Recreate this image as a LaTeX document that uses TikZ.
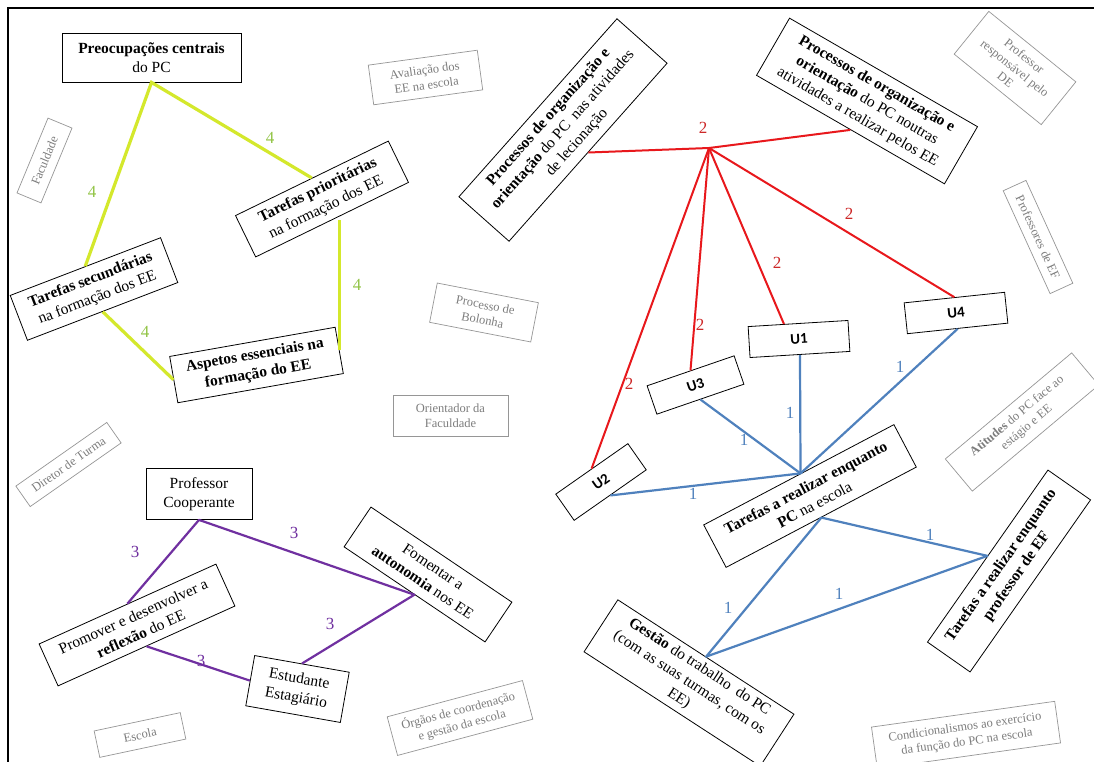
\documentclass[tikz,border=0pt]{standalone}
\usepackage{fontspec}
\setmainfont{Liberation Serif}
\newfontfamily\calibri{Carlito}
\usetikzlibrary{calc}

\definecolor{lineGreen}{RGB}{212,232,44}
\definecolor{numGreen}{RGB}{146,196,70}
\definecolor{lineRed}{RGB}{232,24,28}
\definecolor{numRed}{RGB}{205,40,40}
\definecolor{lineBlue}{RGB}{79,129,189}
\definecolor{linePurple}{RGB}{112,48,160}
\definecolor{boxGray}{RGB}{150,150,150}
\definecolor{txtGray}{RGB}{125,125,125}

\tikzset{
  catbox/.style={draw=black, line width=0.8pt, fill=white, align=center, inner sep=2pt,
    font=\fontsize{15.5}{19}\selectfont},
  grbox/.style={draw=boxGray, line width=0.7pt, fill=white, align=center, inner sep=2pt,
    text=txtGray, font=\fontsize{12.5}{15}\selectfont},
  ubox/.style={draw=black, line width=0.8pt, fill=white, inner sep=2pt,
    font=\calibri\bfseries\fontsize{15}{16}\selectfont},
  numlbl/.style={font=\fontsize{17}{17}\selectfont, inner sep=1pt},
  grline/.style={draw=lineGreen, line width=3.2pt},
  rdline/.style={draw=lineRed, line width=2pt},
  blline/.style={draw=lineBlue, line width=2.2pt, line join=round},
  ppline/.style={draw=linePurple, line width=2.2pt, line join=round}
}

\begin{document}
\begin{tikzpicture}[x=1pt, y=-1pt]
  \useasboundingbox (0,0) rectangle (1094,762);
  \fill[white] (0,0) rectangle (1094,762);
  \draw[line width=2pt] (8,762) -- (8,8) -- (1094,8);

  % Context categories (gray)
  \foreach \nm/\x/\y/\r/\w/\h/\txt in {
      fac/44.5/160.5/67.5/81/26/{Faculdade},
      aval/425.5/77.5/7.8/110/40/{Avaliação dos\\EE na escola},
      prde/1015/68/-39/112/55/{Professor\\responsável pelo\\DE},
      pef/1038/237/-65.5/113/25/{Professores de EF},
      bol/484/312.5/-11/103/40/{Processo de\\Bolonha},
      orf/450.5/415.5/0/115/41/{Orientador da\\Faculdade},
      dir/68.5/464.5/35/111/25/{Diretor de Turma},
      esc/140/735/12/88/27/{Escola},
      org/460/718/15/140/40/{Órgãos de coordenação\\e gestão da escola},
      cond/966/735/8/185/42/{Condicionalismos ao exercício\\da função do PC na escola},
      atit/1022/422/40/165/42/{\textbf{Atitudes} do PC face ao\\estágio e EE}} {
    \node[grbox, rotate=\r, minimum width=\w pt, minimum height=\h pt] (\nm) at (\x,\y) {\txt};
  }

  % Green group
  \node[catbox, minimum width=179pt, minimum height=49pt] (pc) at (151.5,57.5)
    {\textbf{Preocupações centrais}\\do PC};
  \node[catbox, rotate=26, minimum width=170pt, minimum height=46pt] (tpri) at (322,199)
    {\textbf{Tarefas prioritárias}\\na formação dos EE};
  \node[catbox, rotate=21, minimum width=161pt, minimum height=48pt] (tsec) at (94,289)
    {\textbf{Tarefas secundárias}\\na formação dos EE};
  \node[catbox, rotate=10, minimum width=168pt, minimum height=47pt] (asp) at (256.5,365)
    {\textbf{Aspetos essenciais na}\\\textbf{formação do EE}};

  % Red group
  \node[catbox, rotate=48.4, minimum width=238pt, minimum height=67pt] (procL) at (563,130)
    {\textbf{Processos de organização e}\\\textbf{orientação} do PC\ \ nas atividades\\de lecionação};
  \node[catbox, rotate=-30, minimum width=217pt, minimum height=66pt] (procR) at (867,101)
    {\textbf{Processos de organização e}\\\textbf{orientação} do PC noutras\\atividades a realizar pelos EE};
  \node[ubox, rotate=3.5, minimum width=100pt, minimum height=31pt] (u1) at (799,339) {U1};
  \node[ubox, rotate=35, minimum width=88pt, minimum height=32pt] (u2) at (601,482) {U2};
  \node[ubox, rotate=19, minimum width=92pt, minimum height=30pt] (u3) at (695.5,385) {U3};
  \node[ubox, rotate=6, minimum width=101pt, minimum height=31pt] (u4) at (956,313) {U4};

  % Blue group
  \node[catbox, rotate=27.8, minimum width=215pt, minimum height=48pt] (trpc) at (810,496)
    {\textbf{Tarefas a realizar enquanto}\\\textbf{PC} na escola};
  \node[catbox, rotate=55, minimum width=210pt, minimum height=52pt] (tref) at (1009,571)
    {\textbf{Tarefas a realizar enquanto}\\\textbf{professor de EF}};
  \node[catbox, rotate=-33, minimum width=210pt, minimum height=62pt] (gestao) at (689,683)
    {\textbf{Gestão} do trabalho\ \ do PC\\(com as suas turmas, com os\\EE)};

  % Purple group
  \node[catbox, minimum width=106pt, minimum height=51pt] (pcoop) at (199,494)
    {Professor\\Cooperante};
  \node[catbox, rotate=-34, minimum width=170pt, minimum height=48pt] (fom) at (428,574.5)
    {Fomentar a\\\textbf{autonomia} nos EE};
  \node[catbox, rotate=24.3, minimum width=194pt, minimum height=46pt] (prom) at (137,625)
    {Promover e desenvolver a\\\textbf{reflexão} do EE};
  \node[catbox, rotate=-10, minimum width=96pt, minimum height=51pt] (est) at (297.5,689)
    {Estudante\\Estagiário};

  % Connectors
  \draw[grline] (tsec.north) -- (pc.south) -- (tpri.north);
  \draw[grline] (tpri.south -| asp.east) -- (asp.east);
  \draw[grline] (tsec.south) -- (asp.west);

  \coordinate (hubR) at (709,148);
  \draw[rdline] (procL.south) -- (hubR) -- (procR.south);
  \foreach \u in {u2,u3,u4}
    \draw[rdline] (hubR) -- (\u.north);
  \draw[rdline] (hubR) -- ($(u1.north)!0.28!(u1.north west)$);

  \coordinate (hubB) at ($(trpc.north west)!0.51!(trpc.north east)$);
  \draw[blline] (u1.south) -- (hubB);
  \foreach \u in {u2.south,u3.south,u4.south}
    \draw[blline] (\u) -- (hubB);
  \draw[blline] (trpc.south) -- (tref.north) -- (gestao.north) -- cycle;

  \draw[ppline] (prom.north) -- (pcoop.south) -- (fom.south) -- (est.north);
  \draw[ppline] (prom.south) -- (est.west);

  % Frequency labels
  \foreach \x/\y [count=\i] in {92/192, 270/138, 357/285, 145/332}
    \node[numlbl, text=numGreen] (ng\i) at (\x,\y) {4};
  \foreach \x/\y [count=\i] in {703/128, 629/384, 700/325, 777/263, 849/214}
    \node[numlbl, text=numRed] (nr\i) at (\x,\y) {2};
  \foreach \x/\y [count=\i] in {744/440, 790/413, 900/367, 693/494, 930/535, 728/608, 839/594}
    \node[numlbl, text=lineBlue] (nb\i) at (\x,\y) {1};
  \foreach \x/\y [count=\i] in {135/552, 294/533, 330/624, 201/661}
    \node[numlbl, text=linePurple] (np\i) at (\x,\y) {3};
\end{tikzpicture}
\end{document}
